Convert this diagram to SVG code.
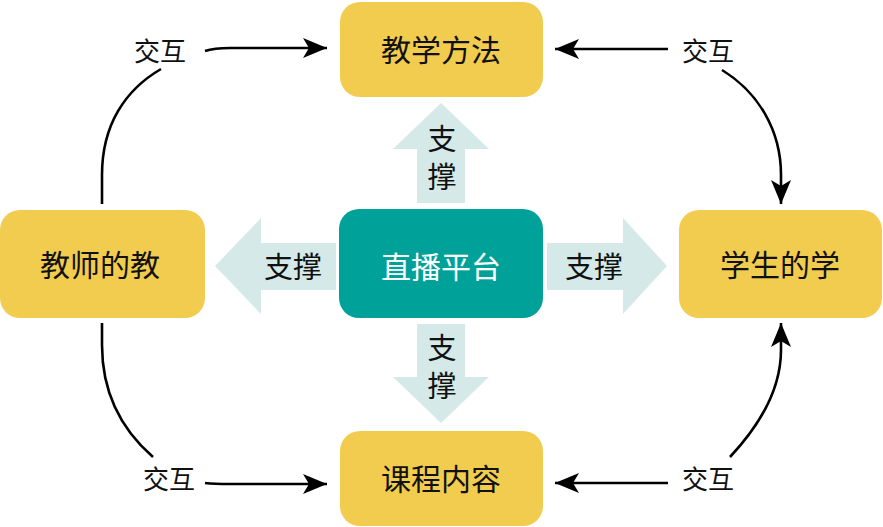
<svg xmlns="http://www.w3.org/2000/svg" width="883" height="527" viewBox="0 0 883 527">
<style>
.node{fill:#F2CC4E}
.hub{fill:#00A199}
.sup{fill:#D5EAE8}
.t{font-family:"Noto Sans CJK SC","Noto Sans",sans-serif;font-size:30px;fill:#111;text-anchor:middle;dominant-baseline:central}
.w{fill:#fff}
.s{font-size:29px}
.v{writing-mode:vertical-rl;letter-spacing:9px}
.lbl{font-size:26px}
.c{fill:none;stroke:#000;stroke-width:2.6}
</style>
<defs>
<marker id="ah" markerUnits="userSpaceOnUse" markerWidth="26" markerHeight="22" refX="24" refY="10" orient="auto">
<path d="M0,0 L24,10 L0,20 L6,10 Z" fill="#000"/>
</marker>
</defs>
<rect width="883" height="527" fill="#fff"/>
<g id="support">
<polygon class="sup" points="441,103 489,149 465,149 465,203 417,203 417,149 393,149"/>
<polygon class="sup" points="441,423 489,377 465,377 465,324 417,324 417,377 393,377"/>
<polygon class="sup" points="215,266 261,218 261,243 336,243 336,290 261,290 261,314"/>
<polygon class="sup" points="667,266 623,218 623,243 547,243 547,290 623,290 623,314"/>
<text class="t s v" x="442" y="162">支撑</text>
<text class="t s v" x="442" y="371">支撑</text>
<text class="t s" x="293" y="265">支撑</text>
<text class="t s" x="594" y="265">支撑</text>
</g>
<g id="n-method"><rect class="node" x="340" y="2" width="203" height="95" rx="20"/><text class="t" x="441" y="48">教学方法</text></g>
<g id="n-teacher"><rect class="node" x="0" y="210" width="205" height="108" rx="20"/><text class="t" x="100" y="263">教师的教</text></g>
<g id="n-hub"><rect class="hub" x="339" y="209" width="204" height="109" rx="20"/><text class="t w" x="441" y="265">直播平台</text></g>
<g id="n-student"><rect class="node" x="679" y="210" width="203" height="108" rx="20"/><text class="t" x="780" y="263">学生的学</text></g>
<g id="n-content"><rect class="node" x="340" y="431" width="203" height="95" rx="20"/><text class="t" x="441" y="477">课程内容</text></g>
<g id="connectors">
<path class="c" d="M102,204 L102,175 C102,125 125,90 161,69"/>
<path class="c" d="M205,51 Q214,48 230,48 L327,48" marker-end="url(#ah)"/>
<path class="c" d="M668,49 L555,49" marker-end="url(#ah)"/>
<path class="c" d="M722,70 C758,92 781,130 781,175 L781,204" marker-end="url(#ah)"/>
<path class="c" d="M102,323 L102,345 C102,395 122,430 153,457"/>
<path class="c" d="M205,483 Q214,484 230,484 L327,484" marker-end="url(#ah)"/>
<path class="c" d="M668,483 L555,483" marker-end="url(#ah)"/>
<path class="c" d="M730,457 C760,425 781,390 781,350 L781,323" marker-end="url(#ah)"/>
<text class="t lbl" x="160" y="49">交互</text>
<text class="t lbl" x="708" y="49">交互</text>
<text class="t lbl" x="169" y="477">交互</text>
<text class="t lbl" x="708" y="477">交互</text>
</g>
</svg>
